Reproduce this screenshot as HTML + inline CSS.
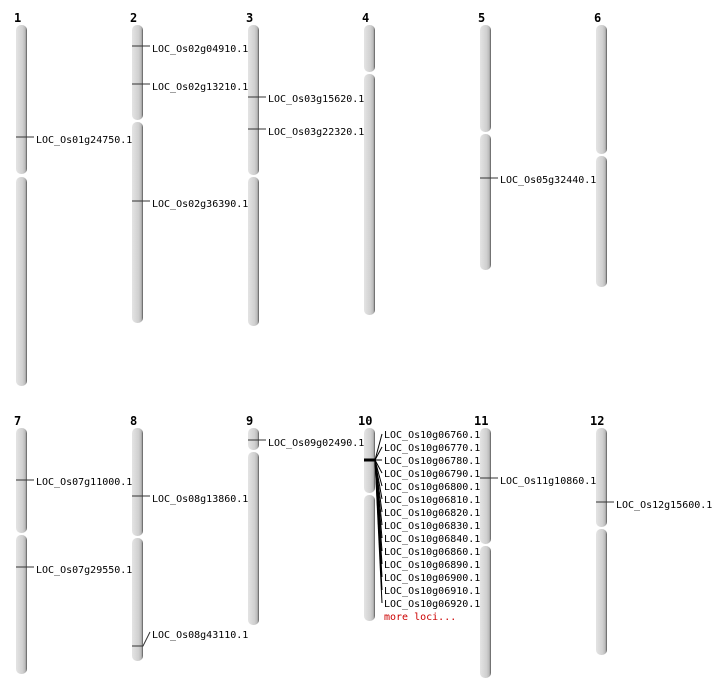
<!DOCTYPE html>
<html><head><meta charset="utf-8"><style>
html,body{margin:0;padding:0;background:#fff;}
svg{display:block;}
text{font-family:"DejaVu Sans Mono","Liberation Mono",monospace;font-size:10px;fill:#000;}
.n{font-weight:bold;font-size:12px;}
.m{stroke:#333;stroke-width:1;}
</style></head><body>
<svg width="712" height="700" viewBox="0 0 712 700" xmlns="http://www.w3.org/2000/svg">
<defs>
<linearGradient id="g" x1="0" x2="1" y1="0" y2="0">
<stop offset="0" stop-color="#e4e4e4"/><stop offset="0.6" stop-color="#d0d0d0"/><stop offset="0.85" stop-color="#b8b8b8"/><stop offset="1" stop-color="#555"/>
</linearGradient>
</defs>
<g fill="url(#g)">
<!-- chr1 -->
<rect x="16" y="25" width="11" height="149" rx="5"/><rect x="16" y="177" width="11" height="209" rx="5"/>
<rect x="132" y="25" width="11" height="95" rx="5"/><rect x="132" y="122" width="11" height="201" rx="5"/>
<rect x="248" y="25" width="11" height="150" rx="5"/><rect x="248" y="177" width="11" height="149" rx="5"/>
<rect x="364" y="25" width="11" height="47" rx="5"/><rect x="364" y="74" width="11" height="241" rx="5"/>
<rect x="480" y="25" width="11" height="107" rx="5"/><rect x="480" y="134" width="11" height="136" rx="5"/>
<rect x="596" y="25" width="11" height="129" rx="5"/><rect x="596" y="156" width="11" height="131" rx="5"/>
<rect x="16" y="428" width="11" height="105" rx="5"/><rect x="16" y="535" width="11" height="139" rx="5"/>
<rect x="132" y="428" width="11" height="108" rx="5"/><rect x="132" y="538" width="11" height="123" rx="5"/>
<rect x="248" y="428" width="11" height="22" rx="5"/><rect x="248" y="452" width="11" height="173" rx="5"/>
<rect x="364" y="428" width="11" height="65" rx="5"/><rect x="364" y="495" width="11" height="126" rx="5"/>
<rect x="480" y="428" width="11" height="116" rx="5"/><rect x="480" y="546" width="11" height="132" rx="5"/>
<rect x="596" y="428" width="11" height="99" rx="5"/><rect x="596" y="529" width="11" height="126" rx="5"/>
</g>
<g class="n">
<text class="n" x="14" y="22">1</text><text class="n" x="130" y="22">2</text><text class="n" x="246" y="22">3</text>
<text class="n" x="362" y="22">4</text><text class="n" x="478" y="22">5</text><text class="n" x="594" y="22">6</text>
<text class="n" x="14" y="425">7</text><text class="n" x="130" y="425">8</text><text class="n" x="246" y="425">9</text>
<text class="n" x="358" y="425">10</text><text class="n" x="474" y="425">11</text><text class="n" x="590" y="425">12</text>
</g>
<g class="m">
<line x1="16" y1="137" x2="34" y2="137"/>
<line x1="132" y1="46" x2="150" y2="46"/>
<line x1="132" y1="84" x2="150" y2="84"/>
<line x1="132" y1="201" x2="150" y2="201"/>
<line x1="248" y1="97" x2="266" y2="97"/>
<line x1="248" y1="129" x2="266" y2="129"/>
<line x1="480" y1="178" x2="498" y2="178"/>
<line x1="16" y1="480" x2="34" y2="480"/>
<line x1="16" y1="567" x2="34" y2="567"/>
<line x1="132" y1="496" x2="150" y2="496"/>
<line x1="248" y1="440" x2="266" y2="440"/>
<line x1="480" y1="478" x2="498" y2="478"/>
<line x1="596" y1="502" x2="614" y2="502"/>
<polyline fill="none" points="132,646 143,646 150,632"/>
</g>
<text x="36" y="143">LOC_Os01g24750.1</text>
<text x="152" y="52">LOC_Os02g04910.1</text>
<text x="152" y="90">LOC_Os02g13210.1</text>
<text x="152" y="207">LOC_Os02g36390.1</text>
<text x="268" y="102">LOC_Os03g15620.1</text>
<text x="268" y="135">LOC_Os03g22320.1</text>
<text x="500" y="183">LOC_Os05g32440.1</text>
<text x="36" y="485">LOC_Os07g11000.1</text>
<text x="36" y="573">LOC_Os07g29550.1</text>
<text x="152" y="502">LOC_Os08g13860.1</text>
<text x="152" y="638">LOC_Os08g43110.1</text>
<text x="268" y="446">LOC_Os09g02490.1</text>
<text x="500" y="484">LOC_Os11g10860.1</text>
<text x="616" y="508">LOC_Os12g15600.1</text>
<g stroke="#000" stroke-width="1">
<line x1="364" y1="460" x2="375" y2="460" stroke-width="3"/>
<line x1="375" y1="460" x2="382" y2="434"/>
<line x1="375" y1="460" x2="382" y2="447"/>
<line x1="375" y1="460" x2="382" y2="460"/>
<line x1="375" y1="460" x2="382" y2="473"/>
<line x1="375" y1="460" x2="382" y2="486"/>
<line x1="375" y1="460" x2="382" y2="499"/>
<line x1="375" y1="460" x2="382" y2="512"/>
<line x1="375" y1="460" x2="382" y2="525"/>
<line x1="375" y1="460" x2="382" y2="538"/>
<line x1="375" y1="460" x2="382" y2="551"/>
<line x1="375" y1="460" x2="382" y2="564"/>
<line x1="375" y1="460" x2="382" y2="577"/>
<line x1="375" y1="460" x2="382" y2="590"/>
<line x1="375" y1="460" x2="382" y2="603"/>
</g>
<text x="384" y="438">LOC_Os10g06760.1</text>
<text x="384" y="451">LOC_Os10g06770.1</text>
<text x="384" y="464">LOC_Os10g06780.1</text>
<text x="384" y="477">LOC_Os10g06790.1</text>
<text x="384" y="490">LOC_Os10g06800.1</text>
<text x="384" y="503">LOC_Os10g06810.1</text>
<text x="384" y="516">LOC_Os10g06820.1</text>
<text x="384" y="529">LOC_Os10g06830.1</text>
<text x="384" y="542">LOC_Os10g06840.1</text>
<text x="384" y="555">LOC_Os10g06860.1</text>
<text x="384" y="568">LOC_Os10g06890.1</text>
<text x="384" y="581">LOC_Os10g06900.1</text>
<text x="384" y="594">LOC_Os10g06910.1</text>
<text x="384" y="607">LOC_Os10g06920.1</text>
<text x="384" y="620" style="fill:#c00">more loci...</text>
</svg>
</body></html>
